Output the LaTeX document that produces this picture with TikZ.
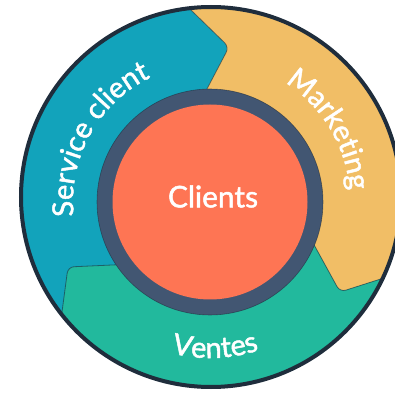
\documentclass[tikz,border=0pt]{standalone}
\usepackage{fontspec}
\newfontfamily\flyfont{Lato}[FakeBold=1.6]
\usetikzlibrary{decorations.text}
\definecolor{tealc}{HTML}{12A3BB}
\definecolor{greenc}{HTML}{22B99D}
\definecolor{yellowc}{HTML}{F1BE66}
\definecolor{redc}{HTML}{FE7554}
\definecolor{ringc}{HTML}{425672}
\definecolor{outlinec}{HTML}{1F2D3C}
\newcommand{\lblfont}{\flyfont\fontsize{29}{32}\selectfont}
\begin{document}
\begin{tikzpicture}[x=1bp,y=1bp,
  seg/.style={rounded corners=6bp},
  segedge/.style={draw=outlinec, draw opacity=0.6, line width=0.8bp, rounded corners=6bp},
  arctext/.style={decorate, decoration={text along path, text align=center, text color=white, text={#1}}}]
\useasboundingbox (0,0) rectangle (395,396);
\clip (0,0) rectangle (395,396);
\coordinate (O) at (210,194);
\coordinate (W) at (211,199);
% boundary teal / marketing
\coordinate (a1) at (157,419); \coordinate (b1) at (193,384);
\coordinate (t1) at (229,349); \coordinate (i1) at (199.6,293);
% boundary marketing / ventes
\coordinate (a2) at (434,134); \coordinate (b2) at (387,119);
\coordinate (t2) at (340,104); \coordinate (i2) at (309.2,160);
% boundary ventes / service
\coordinate (a3) at (56,39);   \coordinate (b3) at (62,84);
\coordinate (t3) at (68,129);  \coordinate (i3) at (129.6,131.8);
\begin{scope}
  \clip (W) circle (191);
  \fill[tealc] (W) circle (193);
  \fill[yellowc, seg] (O) -- (i1) -- (t1) -- (b1) -- (a1) -- (500,500) -- (500,134) -- (a2) -- (b2) -- (t2) -- (i2) -- cycle;
  \fill[greenc, seg] (O) -- (i2) -- (t2) -- (b2) -- (a2) -- (500,-100) -- (-100,-100) -- (a3) -- (b3) -- (t3) -- (i3) -- cycle;
  \draw[segedge] (i1) -- (t1) -- (b1) -- (a1);
  \draw[segedge] (i2) -- (t2) -- (b2) -- (a2);
  \draw[segedge] (i3) -- (t3) -- (b3) -- (a3);
\end{scope}
\draw[outlinec, line width=4bp] (W) circle (190);
\fill[ringc] (O) circle (113);
\draw[outlinec, line width=0.6bp, draw opacity=0.6] (O) circle (113);
\fill[redc] (O) circle (97.5);
\node[font=\flyfont\fontsize{30}{34}\selectfont, text=white, inner sep=0pt] (clients) at (213,199.5) {Clients};
\begin{scope}[shift={(210,195)}]
  \path[arctext={|\lblfont|Service client}] (206:137) arc[start angle=206, end angle=96, radius=137];
  \path[arctext={|\lblfont|Marketing}] (82:140) arc[start angle=82, end angle=-20, radius=140];
  \path[arctext={|\lblfont|Ventes}] (-138:157) arc[start angle=-138, end angle=-38, radius=157];
\end{scope}
\end{tikzpicture}
\end{document}
